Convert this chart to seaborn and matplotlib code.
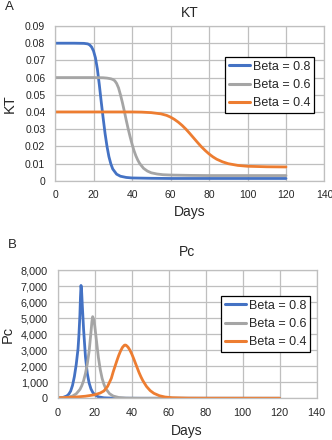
import numpy as np
import pandas as pd
import matplotlib
matplotlib.use("Agg")
import matplotlib.pyplot as plt
import matplotlib.transforms as mtransforms
from matplotlib.ticker import FuncFormatter, MultipleLocator
import seaborn as sns

# ---------------------------------------------------------
# data
# ---------------------------------------------------------
series_names = ["Beta = 0.8", "Beta = 0.6", "Beta = 0.4"]
colors = ["#4472C4", "#A5A5A5", "#ED7D31"]

# panel A: KT
kt_days_08 = [0, 10, 15, 17, 18, 19, 20, 21, 22, 23, 24, 25, 26, 27, 28, 29, 30,
              32, 34, 37, 40, 50, 60, 80, 100, 120]
kt_vals_08 = [0.080, 0.080, 0.0799, 0.0796, 0.0790, 0.0778, 0.0755, 0.0715, 0.0650,
              0.0560, 0.0460, 0.0365, 0.0275, 0.0200, 0.0140, 0.0098, 0.0068,
              0.0038, 0.0026, 0.0019, 0.0016, 0.0014, 0.0013, 0.0013, 0.0013, 0.0013]

kt_days_06 = [0, 20, 25, 27, 29, 30, 31, 32, 33, 34, 35, 36, 37, 38, 39, 40, 41, 42,
              43, 44, 46, 48, 50, 53, 56, 60, 70, 80, 100, 120]
kt_vals_06 = [0.060, 0.060, 0.0599, 0.0597, 0.0593, 0.0589, 0.0582, 0.0566, 0.0540,
              0.0500, 0.0455, 0.0405, 0.0352, 0.0302, 0.0256, 0.0214, 0.0176, 0.0145,
              0.0120, 0.0100, 0.0072, 0.0056, 0.0046, 0.0039, 0.0035, 0.0033, 0.0031,
              0.0030, 0.0030, 0.0030]

kt_days_04 = [0, 40, 45, 50, 55, 58, 60, 62, 64, 66, 68, 70, 72, 74, 76, 78, 80, 82,
              84, 87, 90, 95, 100, 110, 120]
kt_vals_04 = [0.040, 0.040, 0.0399, 0.0396, 0.0389, 0.0380, 0.0370, 0.0357, 0.0341,
              0.0322, 0.0300, 0.0275, 0.0249, 0.0223, 0.0198, 0.0176, 0.0156, 0.0139,
              0.0125, 0.0110, 0.0099, 0.0089, 0.0084, 0.0081, 0.0080]

# panel B: Pc
pc_days_08 = [0, 3, 5, 6, 7, 8, 9, 10, 11, 11.5, 12, 12.3, 12.6, 12.9, 13.3, 14, 15,
              16, 17, 18, 19, 20, 22, 25, 30, 40, 120]
pc_vals_08 = [20, 60, 150, 260, 450, 800, 1350, 2100, 3100, 4000, 5200, 6300, 7050,
              6750, 5800, 4300, 2600, 1550, 950, 580, 360, 230, 90, 30, 8, 2, 0]

pc_days_06 = [0, 5, 8, 10, 12, 13, 14, 15, 16, 17, 18, 18.5, 18.9, 19.4, 20, 21, 22,
              23, 24, 25, 26, 28, 30, 33, 37, 45, 120]
pc_vals_06 = [20, 50, 140, 280, 550, 780, 1100, 1550, 2150, 2950, 4150, 4800, 5100,
              4950, 4550, 3550, 2550, 1800, 1250, 870, 600, 290, 140, 50, 15, 3, 0]

pc_days_04 = [0, 5, 10, 15, 20, 23, 25, 27, 29, 30, 31, 32, 33, 34, 35, 36, 36.5, 37,
              38, 39, 40, 41, 42, 43, 44, 45, 46, 48, 50, 52, 55, 58, 62, 70, 80, 120]
pc_vals_04 = [30, 50, 80, 130, 220, 330, 460, 750, 1250, 1650, 2000, 2350, 2680, 2960,
              3180, 3310, 3330, 3310, 3200, 3020, 2780, 2500, 2200, 1900, 1600, 1340,
              1110, 740, 480, 310, 160, 80, 35, 10, 5, 3]


def long_frame(days_list, vals_list):
    parts = []
    for name, d, v in zip(series_names, days_list, vals_list):
        parts.append(pd.DataFrame({"Days": d, "value": v, "series": name}))
    return pd.concat(parts, ignore_index=True)


kt_df = long_frame([kt_days_08, kt_days_06, kt_days_04],
                   [kt_vals_08, kt_vals_06, kt_vals_04])
pc_df = long_frame([pc_days_08, pc_days_06, pc_days_04],
                   [pc_vals_08, pc_vals_06, pc_vals_04])

# ---------------------------------------------------------
# drawing
# ---------------------------------------------------------
sns.set_style("whitegrid")
plt.rcParams["font.family"] = ["Liberation Sans", "DejaVu Sans"]

W, H = 332, 440
grid_c = "#BFBFBF"
text_c = "#262626"
fig = plt.figure(figsize=(W / 100, H / 100), dpi=100)
ax_a = fig.add_axes([0.1657, 0.5893, 0.8117, 0.3516])
ax_b = fig.add_axes([0.1738, 0.0948, 0.7800, 0.2910])


def draw_panel(ax, df, title, ylab, tick_size, title_pad, xlab_y, ylab_x, legend_anchor):
    sns.lineplot(data=df, x="Days", y="value", hue="series", palette=colors,
                 hue_order=series_names, linewidth=2.0, estimator=None,
                 sort=False, ax=ax)
    ax.set_xlim(0, 140)
    ax.xaxis.set_major_locator(MultipleLocator(20))
    ax.grid(True, color=grid_c, linewidth=0.9)
    for sp in ax.spines.values():
        sp.set_color(grid_c)
        sp.set_linewidth(0.9)
    ax.tick_params(axis="both", direction="out", length=3, width=0.8,
                   color=grid_c, labelsize=tick_size, labelcolor=text_c, pad=4)
    ax.set_title(title, fontsize=10, pad=title_pad, color=text_c)

    # axis labels placed at fixed figure positions
    ax.set_xlabel("Days", fontsize=10, color=text_c, va="center")
    ax.xaxis.set_label_coords(
        0.5, 1 - xlab_y / H,
        transform=mtransforms.blended_transform_factory(ax.transAxes, fig.transFigure))
    ax.set_ylabel(ylab, fontsize=10.5, color=text_c, va="center")
    ax.yaxis.set_label_coords(
        ylab_x / W, 0.5,
        transform=mtransforms.blended_transform_factory(fig.transFigure, ax.transAxes))

    handles, labels = ax.get_legend_handles_labels()
    leg = ax.legend(handles, labels, loc="upper right",
                    bbox_to_anchor=legend_anchor, bbox_transform=fig.transFigure,
                    fontsize=9, frameon=True, fancybox=False, framealpha=1,
                    handlelength=1.7, handletextpad=0.2, borderpad=0.3,
                    labelspacing=0.5, borderaxespad=0)
    leg.get_frame().set_edgecolor("black")
    leg.get_frame().set_linewidth(0.9)
    for line in leg.get_lines():
        line.set_linewidth(2.2)


draw_panel(ax_a, kt_df, "KT", "KT", 7.5, 6.8, 211.5, 10, (314 / W, 1 - 57 / H))
ax_a.set_ylim(0, 0.09)
ax_a.yaxis.set_major_locator(MultipleLocator(0.01))
ax_a.yaxis.set_major_formatter(FuncFormatter(lambda v, p: "0" if abs(v) < 1e-9 else f"{v:.2f}"))

draw_panel(ax_b, pc_df, "Pc", "Pc", 7.8, 10, 430.5, 7.5, (310 / W, 1 - 296 / H))
ax_b.set_ylim(0, 8000)
ax_b.yaxis.set_major_locator(MultipleLocator(1000))
ax_b.yaxis.set_major_formatter(FuncFormatter(lambda v, p: f"{v:,.0f}"))

fig.text(9 / W, 1 - 7 / H, "A", fontsize=9.5, va="center", ha="center", color=text_c)
fig.text(12 / W, 1 - 245 / H, "B", fontsize=9.5, va="center", ha="center", color=text_c)

fig.savefig("out.png", dpi=100)
